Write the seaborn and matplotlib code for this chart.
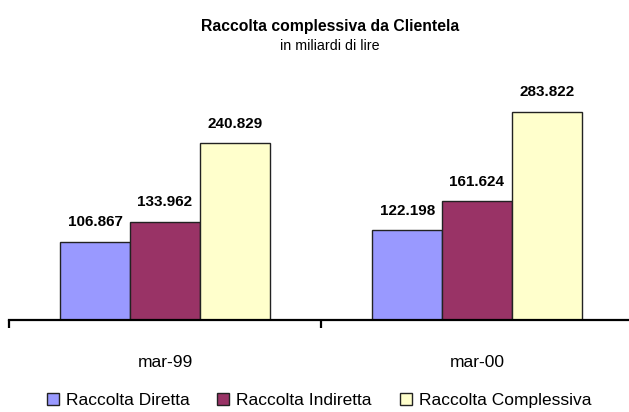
import pandas as pd
import matplotlib
matplotlib.use('Agg')
import matplotlib.pyplot as plt
import seaborn as sns

# data (miliardi di lire)
periodi = ['mar-99', 'mar-00']
serie = ['Raccolta Diretta', 'Raccolta Indiretta', 'Raccolta Complessiva']
diretta = [106867, 122198]
indiretta = [133962, 161624]
complessiva = [240829, 283822]
colori = ['#9999FF', '#993366', '#FFFFCC']

df = pd.DataFrame({
    'periodo': periodi * 3,
    'serie': [serie[0]] * 2 + [serie[1]] * 2 + [serie[2]] * 2,
    'valore': [v / 1000 for v in diretta + indiretta + complessiva],
})

sns.set_style('white')
plt.rcParams['font.family'] = ['Liberation Sans', 'DejaVu Sans']
plt.rcParams['text.color'] = 'black'
plt.rcParams['xtick.color'] = 'black'
plt.rcParams['xtick.labelcolor'] = 'black'

fig = plt.figure(figsize=(6.29, 4.12), dpi=100)
ax = fig.add_axes([9 / 629, 92 / 412, 624 / 629, 220 / 412])

sns.barplot(data=df, x='periodo', y='valore', hue='serie', order=periodi,
            hue_order=serie, palette=colori, saturation=1, width=0.67,
            edgecolor='#222222', linewidth=1, ax=ax)

ax.set_xlim(-0.5, 1.5)
ax.set_ylim(0, 300)
ax.set_xlabel('')
ax.set_ylabel('')
ax.set_yticks([])
for s in ['left', 'top', 'right']:
    ax.spines[s].set_visible(False)
ax.spines['bottom'].set_linewidth(1.6)
ax.spines['bottom'].set_color('black')

ax.set_xticks([-0.5, 0.5, 1.5], minor=True)
ax.tick_params(axis='x', which='minor', direction='out', length=6, width=1.6, color='black', bottom=True)
ax.tick_params(axis='x', which='major', length=0, pad=25, labelsize=12.5, labelcolor='black')

# etichette valori
for cont, vals in zip(ax.containers, [diretta, indiretta, complessiva]):
    labs = [f'{v:,}'.replace(',', '.') for v in vals]
    ax.bar_label(cont, labels=labs, padding=9, fontsize=11, fontweight='bold', color='black')

handles, labels = ax.get_legend_handles_labels()
ax.get_legend().remove()
fig.legend(handles, labels, loc='center', bbox_to_anchor=(0.507, 0.028), ncol=3,
           frameon=False, fontsize=12.5, handlelength=0.7, handleheight=0.7,
           handletextpad=0.4, columnspacing=1.6, labelcolor='black')

fig.text(0.525, 1 - 26 / 412, 'Raccolta complessiva da Clientela', ha='center', va='center',
         fontsize=11.3, fontweight='bold', color='black')
fig.text(0.525, 1 - 46 / 412, 'in miliardi di lire', ha='center', va='center', fontsize=10.3,
         color='black')

fig.savefig('out.png', dpi=100)
